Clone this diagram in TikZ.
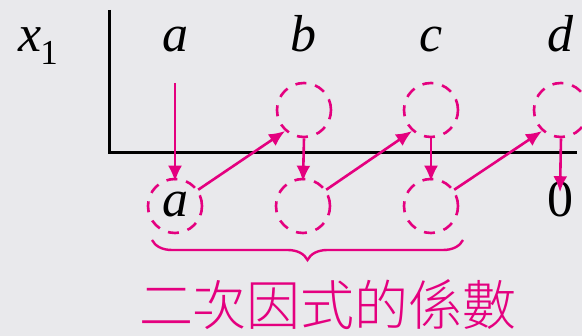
\documentclass[tikz,border=0pt]{standalone}
\usepackage{fontspec}
\setmainfont{Liberation Serif}
\newfontfamily\cjk{Noto Sans CJK TC Light}
\usetikzlibrary{arrows.meta,decorations.pathreplacing}
\definecolor{mag}{RGB}{228,0,127}
\definecolor{bg}{RGB}{233,233,236}
\tikzset{
  lbl/.style={inner sep=0pt, font=\fontsize{52}{52}\selectfont\itshape},
  dc/.style={circle, draw=mag, line width=2.6pt, dash pattern=on 11pt off 9pt, minimum size=54pt, inner sep=0pt},
  arr/.style={draw=mag, line width=2.6pt, -{Latex[length=16pt,width=14pt]}},
  axis/.style={line width=3pt, black}
}
\begin{document}
\begin{tikzpicture}[x=1pt,y=-1pt]
\fill[bg] (0,0) rectangle (582,336);
\useasboundingbox (0,0) rectangle (582,336);
% axes
\coordinate (vt) at (109,10);
\coordinate (corner) at (109,153);
\coordinate (hr) at (577,153);
\draw[axis] (vt) -- (corner) -- (hr);
% labels
\node[lbl, anchor=base west] (x1) at (18,52) {x\hspace{-1pt}\raisebox{-13pt}{\fontsize{35}{35}\selectfont\upshape 1}};
\node[lbl, anchor=base] (ta) at (175,52) {a};
\node[lbl, anchor=base] (tb) at (303,52) {b};
\node[lbl, anchor=base] (tc) at (431,52) {c};
\node[lbl, anchor=base] (td) at (560,52) {d};
% upper circles
\node[dc] (ub) at (304,110) {};
\node[dc] (uc) at (431,110) {};
\node[dc] (ud) at (561,110) {};
% lower circles
\node[dc] (la) at (175,206) {};
\node[lbl] at (175,205) {a};
\node[dc] (lb) at (303,206) {};
\node[dc] (lc) at (431,206) {};
\node[lbl, font=\fontsize{52}{52}\selectfont\upshape, anchor=base] (zero) at (560,217) {0};
% arrows
\coordinate (astart) at (175,83);
\draw[arr] (astart) -- ([yshift=-4pt]la.north);
\draw[arr] (ub.south) -- ([yshift=-4pt]lb.north);
\draw[arr] (uc.south) -- ([yshift=-4pt]lc.north);
\draw[arr] (ud.south) -- ([yshift=-10pt]zero.north);
\draw[arr] (la.35) -- (ub.228);
\draw[arr] (lb.35) -- (uc.228);
\draw[arr] (lc.35) -- (ud.228);
% brace
\coordinate (bl) at (152,240);
\coordinate (br) at (463,240);
\draw[draw=mag, line width=2.4pt, decorate, decoration={brace, mirror, amplitude=20pt}] (bl) -- (br);
\node[inner sep=0pt, text=mag, font=\cjk\fontsize{54}{54}\selectfont] (cap) at (328,305) {二次因式的係數};
\end{tikzpicture}
\end{document}
